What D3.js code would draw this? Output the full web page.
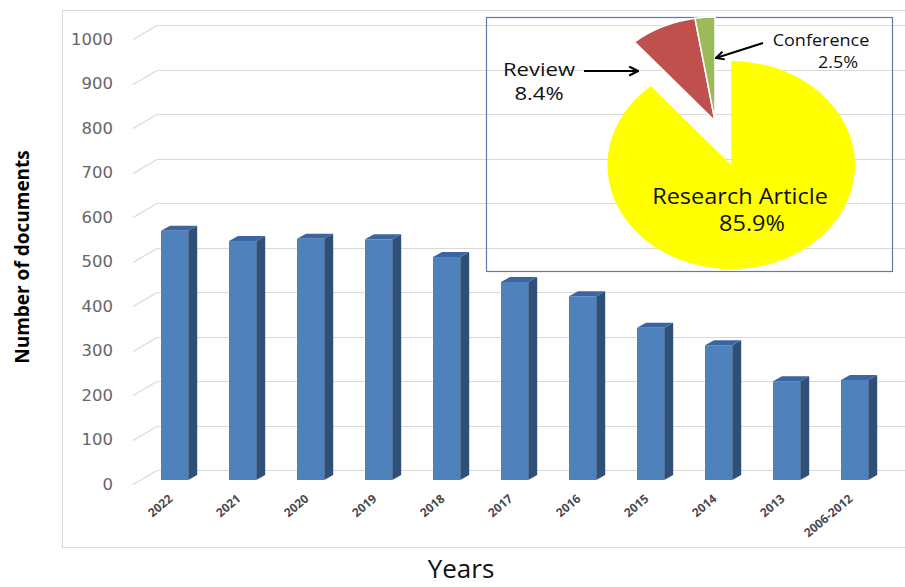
<!DOCTYPE html>
<html lang="en">
<head>
    <meta charset="UTF-8">
    <script src="https://d3js.org/d3.v7.min.js"></script>
    <title>Documents per year</title>
    <style>
        body { margin: 0; background: #fff; }
    </style>
</head>
<body>
<div id="viz"></div>
<script>
    // bar data
    const years = ["2022", "2021", "2020", "2019", "2018", "2017", "2016", "2015", "2014", "2013", "2006-2012"];
    const docCounts = [560, 537, 542, 541, 501, 445, 413, 342, 303, 222, 225];
    const yTicks = [0, 100, 200, 300, 400, 500, 600, 700, 800, 900, 1000];

    // pie data (inset)
    const docTypes = ["Research Article", "Review", "Conference"];
    const typeShares = [85.9, 8.4, 2.5];
    const typeColors = ["#ffff00", "#c0504d", "#9bbb59"];

    const W = 905, H = 587;

    const svg = d3.select("#viz")
        .append("svg")
        .attr("width", W)
        .attr("height", H)
        .style("font-family", "'Open Sans', sans-serif");

    // outer chart frame
    svg.append("rect")
        .attr("x", 62.5).attr("y", 10.5)
        .attr("width", 900).attr("height", 537)
        .attr("fill", "#fff")
        .attr("stroke", "#d9d9d9");

    // back wall scale, front is shifted down by the depth
    const yBack = d3.scaleLinear().domain([0, 1000]).range([470, 25]);
    const wallX = 157, frontX = 133, depthY = 14;

    const grid = svg.append("g");
    yTicks.forEach(t => {
        const yb = Math.round(yBack(t)) + 0.5;
        grid.append("line")
            .attr("x1", frontX).attr("y1", yb + depthY)
            .attr("x2", wallX).attr("y2", yb)
            .attr("stroke", "#d9d9d9").attr("stroke-width", 1.2);
        grid.append("line")
            .attr("x1", wallX).attr("y1", yb)
            .attr("x2", W).attr("y2", yb)
            .attr("stroke", "#d9d9d9").attr("stroke-width", 1.2);
    });

    // y tick labels
    svg.append("g")
        .selectAll("text")
        .data(yTicks)
        .join("text")
        .attr("x", 113)
        .attr("y", d => yBack(d) + depthY)
        .attr("dy", "0.35em")
        .attr("text-anchor", "end")
        .style("font-family", "'DejaVu Sans', sans-serif")
        .style("font-size", "16.5px")
        .attr("fill", "#666")
        .text(d => d);

    // x scale
    const x = d3.scaleBand()
        .domain(years)
        .range([140.6, 888.6])
        .paddingInner(0.6)
        .paddingOuter(0.3);

    const bw = x.bandwidth();
    const dx = 9, dy = 5, base = 480;
    const barTop = v => yBack(v) + 10;

    const bars = svg.append("g")
        .selectAll("g")
        .data(years.map((y, i) => ({ year: y, value: docCounts[i] })))
        .join("g");

    // side face
    bars.append("path")
        .attr("fill", "#2e5079")
        .attr("d", d => {
            const x0 = x(d.year) + bw, y0 = barTop(d.value);
            return `M${x0},${y0} L${x0 + dx},${y0 - dy} L${x0 + dx},${base - dy} L${x0},${base} Z`;
        });
    // top face
    bars.append("path")
        .attr("fill", "#3b65a0")
        .attr("d", d => {
            const x0 = x(d.year), y0 = barTop(d.value);
            return `M${x0},${y0} L${x0 + dx},${y0 - dy} L${x0 + bw + dx},${y0 - dy} L${x0 + bw},${y0} Z`;
        });
    // front face
    bars.append("rect")
        .attr("x", d => x(d.year))
        .attr("y", d => barTop(d.value))
        .attr("width", bw)
        .attr("height", d => base - barTop(d.value))
        .attr("fill", "#4f81bd");

    // x tick labels
    svg.append("g")
        .selectAll("text")
        .data(years)
        .join("text")
        .attr("transform", d => `translate(${x(d) + bw / 2 - 1}, 500) rotate(-40)`)
        .attr("text-anchor", "end")
        .style("font-size", "12px")
        .style("font-weight", "bold")
        .attr("fill", "#4a4a4a")
        .text(d => d);

    // axis titles
    svg.append("text")
        .attr("transform", "translate(29, 257) rotate(-90)")
        .attr("text-anchor", "middle")
        .style("font-size", "19px")
        .style("font-weight", "bold")
        .attr("fill", "#000")
        .text("Number of documents");

    svg.append("text")
        .attr("x", 461)
        .attr("y", 578)
        .attr("text-anchor", "middle")
        .style("font-size", "26px")
        .attr("fill", "#111")
        .text("Years");

    // inset box
    svg.append("rect")
        .attr("x", 486.5).attr("y", 17.5)
        .attr("width", 406).attr("height", 254)
        .attr("fill", "none")
        .attr("stroke", "#5b7bad")
        .attr("stroke-width", 1.2);

    // pie
    const pieData = d3.pie().sort(null)(typeShares);
    const arc = d3.arc().innerRadius(0).outerRadius(104);
    const pieG = svg.append("g")
        .attr("transform", "translate(715, 121) scale(1.19, 1)");

    pieG.selectAll("path")
        .data(pieData)
        .join("path")
        .attr("d", arc)
        .attr("fill", (d, i) => typeColors[i])
        .attr("stroke", (d, i) => i === 0 ? "none" : "#fff")
        .attr("stroke-width", 1.5)
        .attr("vector-effect", "non-scaling-stroke")
        .attr("transform", (d, i) => {
            if (i !== 0) return null;
            const mid = (d.startAngle + d.endAngle) / 2;
            const off = 47;
            return `translate(${Math.sin(mid) * off / 1.19}, ${-Math.cos(mid) * off})`;
        });

    // arrow marker
    svg.append("defs").append("marker")
        .attr("id", "arrow")
        .attr("viewBox", "0 0 10 10")
        .attr("refX", 9).attr("refY", 5)
        .attr("markerWidth", 5).attr("markerHeight", 5)
        .attr("orient", "auto")
        .append("path")
        .attr("d", "M1,1 L9,5 L1,9")
        .attr("fill", "none")
        .attr("stroke", "#000")
        .attr("stroke-width", 2);

    // the inset labels are a little stretched sideways, like the pie
    const addLabel = (txt, cx, cy, size, sx) => svg.append("text")
        .attr("transform", `translate(${cx}, ${cy}) scale(${sx}, 1)`)
        .attr("text-anchor", "middle")
        .attr("fill", "#111")
        .style("font-size", size + "px")
        .text(txt);

    // Review label
    addLabel(docTypes[1], 539, 76, 19, 1.16);
    addLabel(typeShares[1] + "%", 539, 100, 19, 1.16);
    svg.append("line")
        .attr("x1", 584).attr("y1", 71)
        .attr("x2", 638).attr("y2", 71)
        .attr("stroke", "#000").attr("stroke-width", 2.2)
        .attr("marker-end", "url(#arrow)");

    // Conference label
    addLabel(docTypes[2], 821, 46, 17, 1.06);
    addLabel(typeShares[2] + "%", 838, 68, 17, 1.06);
    svg.append("line")
        .attr("x1", 763).attr("y1", 43)
        .attr("x2", 716).attr("y2", 58)
        .attr("stroke", "#000").attr("stroke-width", 2)
        .attr("marker-end", "url(#arrow)");

    // Research Article label
    addLabel(docTypes[0], 740, 204, 21, 1.12);
    addLabel(typeShares[0] + "%", 752, 231, 21, 1.12);
</script>
</body>
</html>
